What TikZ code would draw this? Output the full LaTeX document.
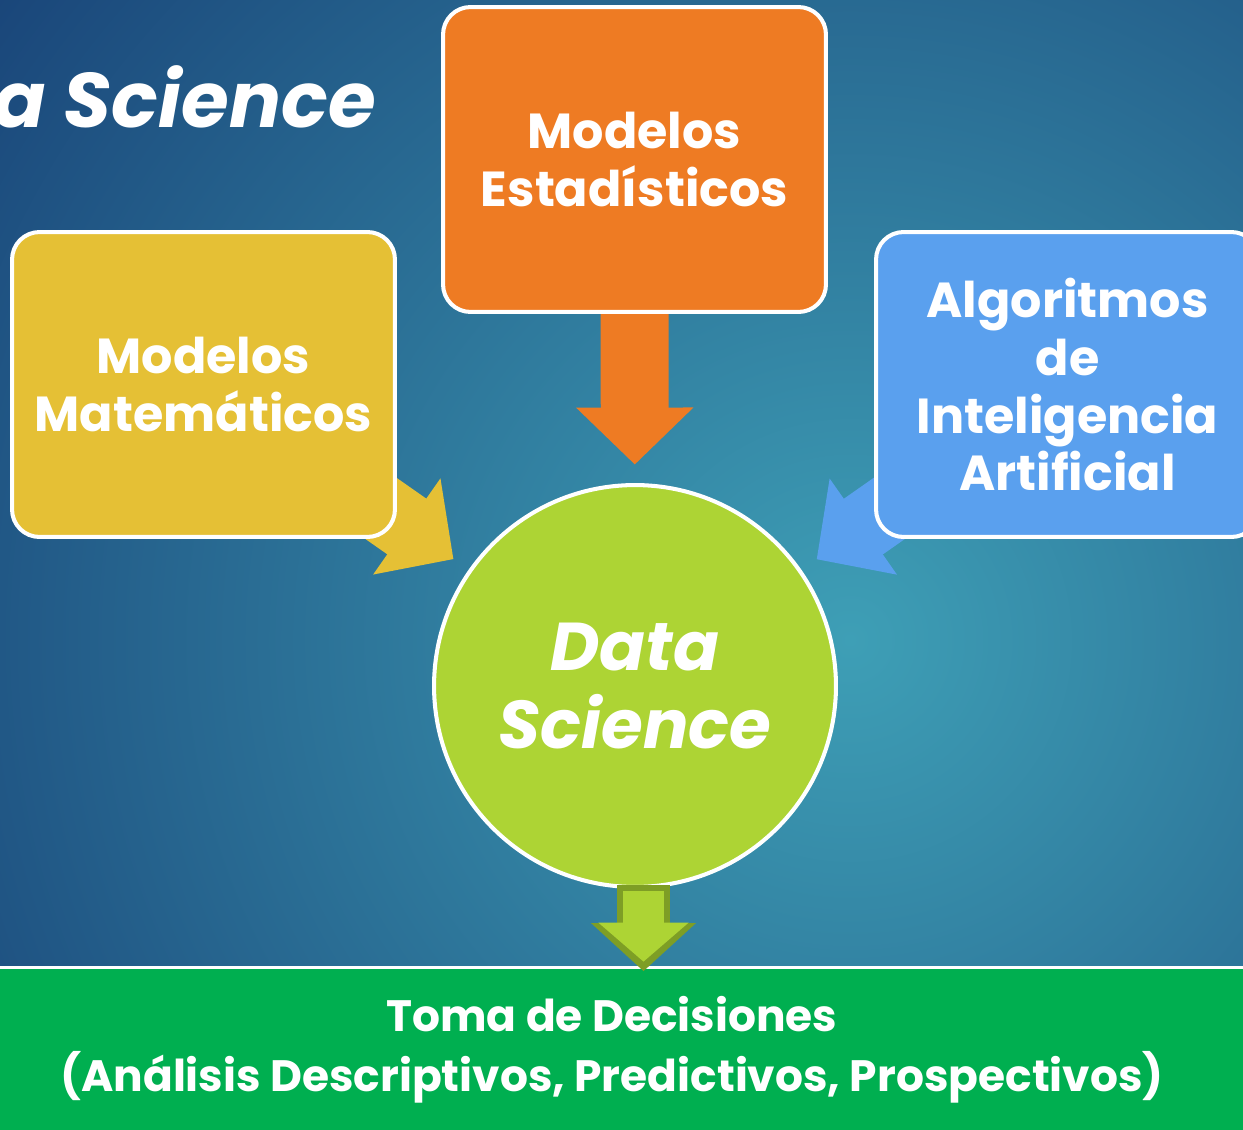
\documentclass[tikz,border=0pt]{standalone}
\usepackage{fontspec}
\setmainfont{Poppins}
\usetikzlibrary{arrows.meta, positioning}
\definecolor{bgdark}{HTML}{173F75}
\definecolor{bgteal}{HTML}{3E9FB6}
\definecolor{statorange}{HTML}{EE7B23}
\definecolor{matyellow}{HTML}{E5C035}
\definecolor{algblue}{HTML}{5AA0EE}
\definecolor{dsgreen}{HTML}{ADD434}
\definecolor{dsoutline}{HTML}{7E9E25}
\definecolor{decgreen}{HTML}{00AF50}
\pgfdeclarelayer{back}
\pgfdeclarelayer{under}
\pgfsetlayers{back,under,main}

\begin{document}
\begin{tikzpicture}[x=0.02cm, y=-0.02cm]
    \tikzstyle{box}=[rectangle, rounded corners=0.55cm, draw=white, line width=2.3pt, minimum width=7.66cm, minimum height=6.1cm, align=center, text=white, font=\fontsize{28}{33}\selectfont\bfseries]
    \tikzstyle{stat box}=[box, fill=statorange]
    \tikzstyle{mat box}=[box, fill=matyellow]
    \tikzstyle{alg box}=[box, fill=algblue]
    \tikzstyle{core}=[circle, draw=white, line width=2.3pt, fill=dsgreen, minimum size=8.04cm, align=center, text=white, font=\fontsize{38.5}{44}\selectfont\bfseries\itshape]
    \tikzstyle{decision}=[rectangle, fill=decgreen, minimum width=26cm, minimum height=3.28cm, align=center, text=white, font=\fontsize{25}{34}\selectfont\bfseries]
    \tikzstyle{title}=[text=white, font=\fontsize{44}{50}\selectfont\bfseries\itshape, inner sep=0pt]
    \tikzstyle{block arrow}=[line width=1.36cm, -{Triangle[width=2.28cm,length=1.14cm]}, shorten >=0.37cm]

    \useasboundingbox (0,0) rectangle (1243,1129);
    \begin{pgfonlayer}{back}
        \shade[inner color=bgteal, outer color=bgdark] (-300,-510) rectangle (2000,1790);
    \end{pgfonlayer}

    \node[title, anchor=base east] (title) at (376,127) {Data Science};

    \node[stat box] (stat) at (634.5,159.5) {Modelos\\Estadísticos};
    \node[mat box] (mat) at (203.5,384.5) {Modelos\\Matemáticos};
    \node[alg box] (alg) at (1067.5,384.5) {Algoritmos\\de\\Inteligencia\\Artificial};
    \node[core] (ds) at (635,686) {Data\\Science};
    \node[decision] (dec) at (612,1050) {Toma de Decisiones\\(Análisis Descriptivos, Predictivos, Prospectivos)};
    \draw[white, line width=2pt] (dec.north west) -- (dec.north east);

    \begin{pgfonlayer}{under}
        \draw[block arrow, statorange] (stat) -- (ds);
        \draw[block arrow, matyellow, shorten <=-1.2cm] (mat) -- (ds);
        \draw[block arrow, algblue, shorten <=-1.2cm] (alg) -- (ds);
    \end{pgfonlayer}

    % arrow to the decisions, drawn twice for the outline
    \draw[dsoutline, line width=1.06cm, -{Triangle[width=2.04cm,length=0.96cm]}, shorten <=-2pt, shorten >=-2pt] ([xshift=0.17cm]ds.south) -- ([xshift=0.17cm]ds.south |- dec.north);
    \draw[dsgreen, line width=0.82cm, -{Triangle[width=1.76cm,length=0.78cm]}, shorten <=1pt, shorten >=0.12cm] ([xshift=0.17cm]ds.south) -- ([xshift=0.17cm]ds.south |- dec.north);
\end{tikzpicture}
\end{document}
